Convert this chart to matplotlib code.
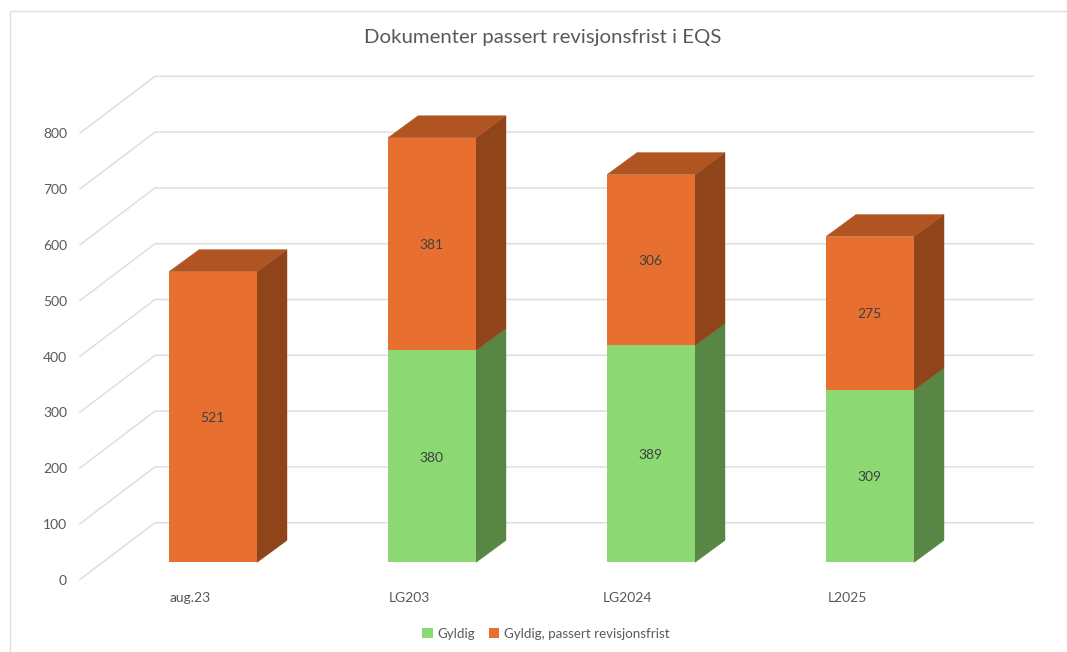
"""Dokumenter passert revisjonsfrist i EQS - stablet søylediagram med 3D-utseende."""

import matplotlib.pyplot as plt
from matplotlib.patches import Polygon

categories = ["aug.23", "LG203", "LG2024", "L2025"]
gyldig = [0, 380, 389, 309]
passert = [521, 381, 306, 275]
y_ticks = [0, 100, 200, 300, 400, 500, 600, 700, 800]

TITLE = "Dokumenter passert revisjonsfrist i EQS"
LABEL_GYLDIG = "Gyldig"
LABEL_PASSERT = "Gyldig, passert revisjonsfrist"

GREEN = ("#8CD872", "#588745")
ORANGE = ("#E76F30", "#90441A")
ORANGE_TOP = "#B05421"
GRID = "#DEDEDE"
TEXT = "#595959"
TEXT_DARK = "#404040"

W, H = 1067, 652
PX_PER_CAT = 219.0
PX_PER_UNIT = 0.558
X0_PX = 213.0
Y0_PX = 562.4

BAR_WIDTH = 88 / PX_PER_CAT
DEPTH_X = 30 / PX_PER_CAT
DEPTH_Y = 22 / PX_PER_UNIT
LABEL_NUDGE = 1.2 / PX_PER_UNIT

plt.rcParams["font.family"] = ["Lato", "DejaVu Sans"]


def px_x(px):
    return (px - X0_PX) / PX_PER_CAT


def px_y(px):
    return (Y0_PX - px) / PX_PER_UNIT


def draw_side(ax, x, bottom, top, color):
    right = x + BAR_WIDTH / 2
    ax.add_patch(Polygon(
        [(right, bottom), (right + DEPTH_X, bottom + DEPTH_Y),
         (right + DEPTH_X, top + DEPTH_Y), (right, top)],
        facecolor=color, edgecolor=color, linewidth=0.3, zorder=3,
    ))


def draw_top(ax, x, top, color):
    left = x - BAR_WIDTH / 2
    right = x + BAR_WIDTH / 2
    ax.add_patch(Polygon(
        [(left, top), (right, top), (right + DEPTH_X, top + DEPTH_Y),
         (left + DEPTH_X, top + DEPTH_Y)],
        facecolor=color, edgecolor=color, linewidth=0.3, zorder=3,
    ))


def main():
    fig = plt.figure(figsize=(W / 100, H / 100), dpi=100, facecolor="white")
    ax = fig.add_axes([0, 0, 1, 1])
    ax.set_xlim(px_x(0), px_x(W))
    ax.set_ylim(px_y(H), px_y(0))
    ax.axis("off")

    # ramme rundt diagrammet (kun venstre og topp er synlig i bildet)
    ax.plot([px_x(10), px_x(10), px_x(W)], [px_y(H), px_y(10.5), px_y(10.5)],
            color=GRID, linewidth=1.0, zorder=1)

    # rutenett: skrå del på gulvet/veggen + horisontal bakvegg
    shift_front = px_y(579.5)
    shift_back = px_y(522.7)
    for tick in y_ticks:
        ax.plot([px_x(80), px_x(155), px_x(1033)],
                [tick + shift_front, tick + shift_back, tick + shift_back],
                color=GRID, linewidth=1.1, zorder=1, solid_joinstyle="miter")
        ax.text(px_x(67), tick + shift_front - LABEL_NUDGE, str(tick), ha="right",
                va="center", fontsize=10, color=TEXT)

    xs = list(range(len(categories)))
    bars_g = ax.bar(xs, gyldig, width=BAR_WIDTH, color=GREEN[0], zorder=4,
                    label=LABEL_GYLDIG)
    bars_p = ax.bar(xs, passert, width=BAR_WIDTH, bottom=gyldig, color=ORANGE[0],
                    zorder=4, label=LABEL_PASSERT)

    for x, g, p in zip(xs, gyldig, passert):
        if g:
            draw_side(ax, x, 0, g, GREEN[1])
            ax.text(x - 1 / PX_PER_CAT, g / 2 - LABEL_NUDGE, str(g), ha="center",
                    va="center", fontsize=10, color=TEXT_DARK, zorder=5)
        draw_side(ax, x, g, g + p, ORANGE[1])
        draw_top(ax, x, g + p, ORANGE_TOP)
        ax.text(x - 1 / PX_PER_CAT, g + p / 2 - LABEL_NUDGE, str(p), ha="center",
                va="center", fontsize=10, color=TEXT_DARK, zorder=5)

    for x, name in zip(xs, categories):
        ax.text(x - 23 / PX_PER_CAT, px_y(598.5), name, ha="center", va="center",
                fontsize=10, color=TEXT)

    ax.text(px_x(543), px_y(37), TITLE, ha="center", va="center", fontsize=14.7,
            color=TEXT)

    ax.legend(
        handles=[bars_g, bars_p], loc="center", ncol=2, frameon=False,
        bbox_to_anchor=(546 / W, 1 - 633.5 / H), bbox_transform=fig.transFigure,
        fontsize=9.6, labelcolor=TEXT, handlelength=0.8, handleheight=0.8,
        handletextpad=0.35, columnspacing=1.0,
    )

    fig.savefig("out.png", dpi=100, facecolor="white")
    plt.close(fig)


if __name__ == "__main__":
    main()
